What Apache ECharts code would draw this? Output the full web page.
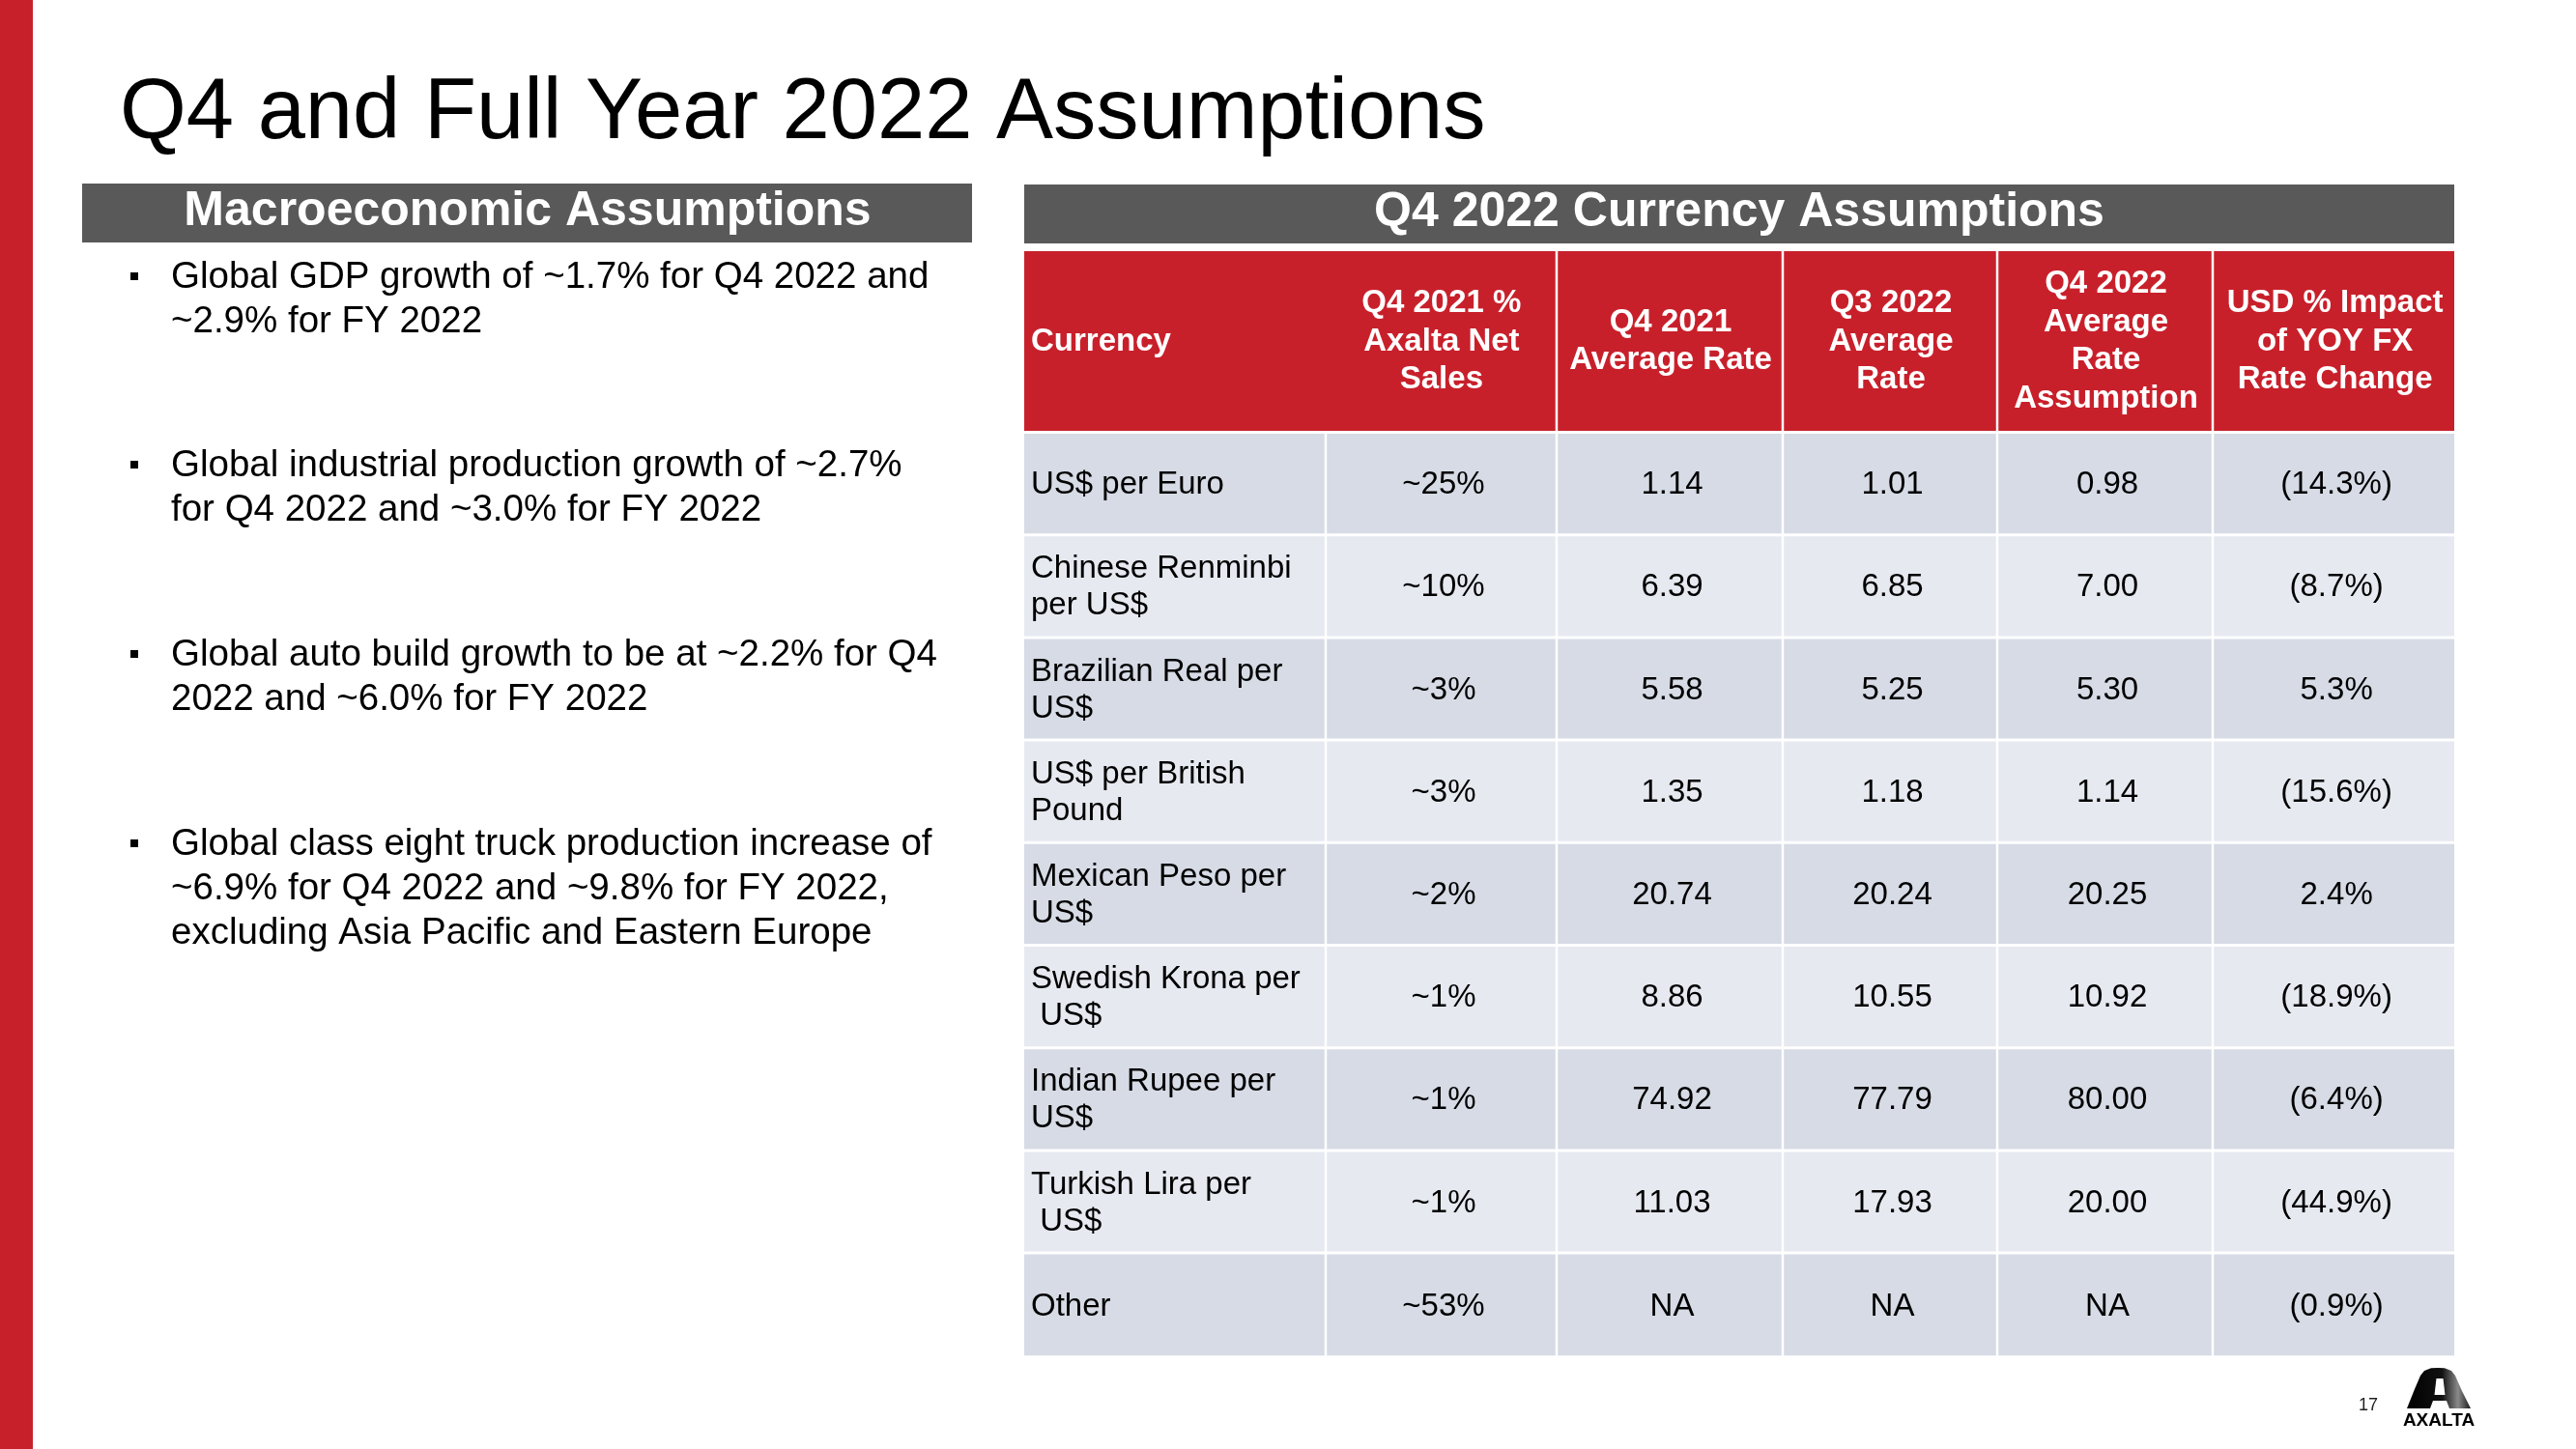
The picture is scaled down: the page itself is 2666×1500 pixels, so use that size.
<!DOCTYPE html>
<html><head><meta charset="utf-8">
<script src="https://cdn.jsdelivr.net/npm/echarts@6/dist/echarts.min.js"></script>
<style>html,body{margin:0;padding:0;background:#fff}#c{width:2666px;height:1500px}</style>
</head><body><div id="c"></div>
<script>
// ---------- data ----------
const slideTitle = 'Q4 and Full Year 2022 Assumptions';
const leftPanelTitle = 'Macroeconomic Assumptions';
const rightPanelTitle = 'Q4 2022 Currency Assumptions';
const macroBullets = [
  'Global GDP growth of ~1.7% for Q4 2022 and\n~2.9% for FY 2022',
  'Global industrial production growth of ~2.7%\nfor Q4 2022 and ~3.0% for FY 2022',
  'Global auto build growth to be at ~2.2% for Q4\n2022 and ~6.0% for FY 2022',
  'Global class eight truck production increase of\n~6.9% for Q4 2022 and ~9.8% for FY 2022,\nexcluding Asia Pacific and Eastern Europe'
];
const columnHeaders = [
  'Currency',
  'Q4 2021 %\nAxalta Net\nSales',
  'Q4 2021\nAverage Rate',
  'Q3 2022\nAverage\nRate',
  'Q4 2022\nAverage\nRate\nAssumption',
  'USD % Impact\nof YOY FX\nRate Change'
];
const currencies = [
  'US$ per Euro',
  'Chinese Renminbi\nper US$',
  'Brazilian Real per\nUS$',
  'US$ per British\nPound',
  'Mexican Peso per\nUS$',
  'Swedish Krona per\n US$',
  'Indian Rupee per\nUS$',
  'Turkish Lira per\n US$',
  'Other'
];
const q4_2021SalesShare = ['~25%', '~10%', '~3%', '~3%', '~2%', '~1%', '~1%', '~1%', '~53%'];
const q4_2021AvgRate = [1.14, 6.39, 5.58, 1.35, 20.74, 8.86, 74.92, 11.03, null];
const q3_2022AvgRate = [1.01, 6.85, 5.25, 1.18, 20.24, 10.55, 77.79, 17.93, null];
const q4_2022RateAssumption = [0.98, 7.00, 5.30, 1.14, 20.25, 10.92, 80.00, 20.00, null];
const usdImpactPct = [-14.3, -8.7, 5.3, -15.6, 2.4, -18.9, -6.4, -44.9, -0.9];
const pageNumber = '17';

// ---------- layout / style ----------
const FONT = '"Liberation Sans", Arial, Helvetica, sans-serif';
const RED = '#C8202B';
const DARK = '#595959';
const ROW_A = '#D6DBE5';
const ROW_B = '#E6E9F0';
const colEdges = [0, 312, 551, 785, 1007, 1230, 1480];
const HEADER_H = 187.5;
const ROW_H = 106.2;
const TABLE_W = 1480;
const TABLE_H = HEADER_H + ROW_H * currencies.length;

const fmtRate = v => v == null ? 'NA' : v.toFixed(2);
const fmtPct = v => v < 0 ? '(' + Math.abs(v).toFixed(1) + '%)' : v.toFixed(1) + '%';

const cellText = [];
const cellData = [];
columnHeaders.forEach((h, c) => { cellData.push([c, -1]); cellText.push(h); });
currencies.forEach((cur, r) => {
  const rowVals = [cur, q4_2021SalesShare[r], fmtRate(q4_2021AvgRate[r]), fmtRate(q3_2022AvgRate[r]),
                   fmtRate(q4_2022RateAssumption[r]), fmtPct(usdImpactPct[r])];
  rowVals.forEach((t, c) => { cellData.push([c, r]); cellText.push(t); });
});

function renderCell(params, api) {
  const col = api.value(0), row = api.value(1);
  const isHeader = row < 0;
  const yTop = isHeader ? 0 : HEADER_H + row * ROW_H;
  const yBot = isHeader ? HEADER_H : HEADER_H + (row + 1) * ROW_H;
  const p0 = api.coord([colEdges[col], yTop]);
  const p1 = api.coord([colEdges[col + 1], yBot]);
  const gx = 1.25, gy = 1.5;
  let x0 = p0[0] + (col > 0 ? gx : 0);
  let x1 = p1[0] - (col < colEdges.length - 2 ? gx : 0);
  if (isHeader && col === 0) x1 = p1[0];
  if (isHeader && col === 1) x0 = p0[0];
  const y0 = p0[1] + (isHeader ? 0 : gy);
  const y1 = p1[1] - (row === currencies.length - 1 ? 0 : gy);
  const fill = isHeader ? RED : (row % 2 === 0 ? ROW_A : ROW_B);
  const text = cellText[params.dataIndex];
  return {
    type: 'group',
    children: [
      { type: 'rect', shape: { x: x0, y: y0, width: x1 - x0, height: y1 - y0 }, style: { fill: fill } },
      { type: 'text', style: {
          text: text,
          x: col === 0 ? x0 + 7 : (x0 + x1) / 2 + (isHeader ? 1 : 2.5),
          y: (y0 + y1) / 2 + (isHeader ? 0.5 : 1.5),
          align: col === 0 ? 'left' : 'center',
          verticalAlign: 'middle',
          fontFamily: FONT,
          fontSize: 33,
          fontWeight: isHeader ? 'bold' : 'normal',
          lineHeight: isHeader ? 39.5 : 38,
          fill: isHeader ? '#fff' : '#000'
      } }
    ]
  };
}

// decorative slide elements
const logoGradient = { type: 'linear', x: 0, y: 0, x2: 1, y2: 0, colorStops: [
  { offset: 0, color: '#000' }, { offset: 0.55, color: '#111' }, { offset: 0.8, color: '#8a8a8a' }, { offset: 1, color: '#1a1a1a' }] };
const graphics = [
  { type: 'rect', shape: { x: 0, y: 0, width: 34, height: 1500 }, style: { fill: RED } },
  { type: 'text', style: { text: slideTitle, x: 124, y: 119, verticalAlign: 'middle', fontFamily: FONT, fontSize: 88.5, fill: '#000' } },
  { type: 'rect', shape: { x: 85, y: 190, width: 921, height: 61 }, style: { fill: DARK } },
  { type: 'text', style: { text: leftPanelTitle, x: 546, y: 219, align: 'center', verticalAlign: 'middle', fontFamily: FONT, fontSize: 50, fontWeight: 'bold', fill: '#fff' } },
  { type: 'rect', shape: { x: 1060, y: 191, width: 1480, height: 61 }, style: { fill: DARK } },
  { type: 'text', style: { text: rightPanelTitle, x: 1800, y: 220, align: 'center', verticalAlign: 'middle', fontFamily: FONT, fontSize: 50, fontWeight: 'bold', fill: '#fff' } },
  { type: 'text', style: { text: pageNumber, x: 2451, y: 1455, align: 'center', verticalAlign: 'middle', fontFamily: FONT, fontSize: 18, fill: '#222' } },
  { type: 'polygon', shape: { points: [[2491,1458],[2499,1438],[2505,1424],[2509,1419],[2516,1416.3],[2523,1416],[2530,1416.3],[2537,1419],[2541,1424],[2548,1440],[2557,1458],[2535,1458],[2532,1450],[2518,1450],[2515,1458]] },
    style: { fill: logoGradient } },
  { type: 'polygon', shape: { points: [[2521.5,1427],[2528.5,1427],[2530.5,1444],[2519.5,1444]] }, style: { fill: '#fff' } },
  { type: 'text', style: { text: 'AXALTA', x: 2524, y: 1471, align: 'center', verticalAlign: 'middle', fontFamily: FONT, fontSize: 19, fontWeight: 'bold', fill: '#000' } }
];
const bulletTops = [284, 479, 675, 871];
macroBullets.forEach((b, i) => {
  const cy = bulletTops[i];
  graphics.push({ type: 'rect', shape: { x: 135, y: cy - 2, width: 8, height: 8 }, style: { fill: '#000' } });
  graphics.push({ type: 'text', style: { text: b, x: 177, y: cy - 20, verticalAlign: 'top', fontFamily: FONT, fontSize: 38.5, lineHeight: 46, fill: '#000' } });
});

const chart = echarts.init(document.getElementById('c'), null, { renderer: 'canvas' });
chart.setOption({
  animation: false,
  backgroundColor: '#fff',
  grid: { left: 1060, top: 260, width: TABLE_W, height: TABLE_H, containLabel: false, show: false },
  xAxis: { type: 'value', min: 0, max: TABLE_W, show: false },
  yAxis: { type: 'value', min: 0, max: TABLE_H, inverse: true, show: false },
  graphic: graphics,
  series: [{
    type: 'custom',
    coordinateSystem: 'cartesian2d',
    renderItem: renderCell,
    clip: false,
    silent: true,
    encode: { x: 0, y: 1 },
    data: cellData
  }]
});
</script></body></html>
